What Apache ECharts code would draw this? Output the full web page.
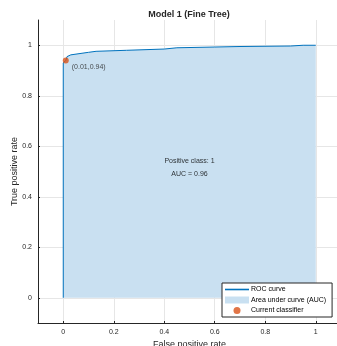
<!DOCTYPE html>
<html>
<head>
<meta charset="utf-8">
<script src="https://cdn.jsdelivr.net/npm/echarts@6/dist/echarts.min.js"></script>
<style>
html, body { margin: 0; padding: 0; background: #fff; }
#chart { width: 337px; height: 346px; }
</style>
</head>
<body>
<div id="chart"></div>
<script>
// ROC points
const fpr = [0, 0, 0.01, 0.015, 0.03, 0.1, 0.13, 0.25, 0.4, 0.45, 0.6, 0.7, 0.9, 0.95, 1];
const tpr = [0, 0.93, 0.94, 0.955, 0.962, 0.972, 0.976, 0.98, 0.985, 0.99, 0.993, 0.995, 0.997, 1, 1];
const current = [0.01, 0.94];
const ticks = [0, 0.2, 0.4, 0.6, 0.8, 1];
const infoText = ['Positive class: 1', 'AUC = 0.96'];

const font = 'Liberation Sans, Arial, sans-serif';
const roc = fpr.map((x, i) => [x, tpr[i]]);

const mychart = echarts.init(document.getElementById('chart'));

const axisCommon = {
  type: 'value',
  min: -0.1,
  max: 1.1,
  nameLocation: 'middle',
  nameMoveOverlap: false,
  nameTextStyle: { fontFamily: font, fontSize: 9, color: '#262626' },
  axisLine: { show: true, onZero: false, lineStyle: { color: '#262626', width: 1 } },
  axisTick: { show: true, inside: true, length: 2, customValues: ticks, lineStyle: { color: '#262626' } },
  axisLabel: {
    customValues: ticks,
    fontFamily: font,
    fontSize: 7,
    color: '#262626',
    formatter: v => String(Math.round(v * 10) / 10)
  },
  splitLine: { show: true, lineStyle: { color: '#e6e6e6', width: 1 } }
};

const option = {
  animation: false,
  graphic: [{
    type: 'text',
    x: 189,
    y: 15,
    style: {
      text: 'Model 1 (Fine Tree)',
      textAlign: 'center',
      textVerticalAlign: 'middle',
      fontFamily: font,
      fontSize: 9,
      fontWeight: 'bold',
      fill: '#262626'
    }
  }],
  grid: { left: 38, top: 20, right: -4, bottom: 23, outerBoundsMode: 'none' },
  xAxis: Object.assign({}, axisCommon, {
    name: 'False positive rate',
    nameGap: 17,
    axisLabel: Object.assign({}, axisCommon.axisLabel, { margin: 6 })
  }),
  yAxis: Object.assign({}, axisCommon, {
    name: 'True positive rate',
    nameGap: 19,
    axisLabel: Object.assign({}, axisCommon.axisLabel, { margin: 6 })
  }),
  legend: {
    orient: 'vertical',
    left: 222,
    top: 283,
    padding: [3, 6, 3, 3],
    itemWidth: 24,
    itemHeight: 7,
    itemGap: 3.5,
    symbolKeepAspect: true,
    backgroundColor: '#fff',
    borderColor: '#262626',
    borderWidth: 1,
    borderRadius: 0,
    textStyle: { fontFamily: font, fontSize: 7, color: '#000', padding: [0, 0, 0, -3] },
    data: [
      { name: 'ROC curve', icon: 'path://M0,0L24,0L24,1.6L0,1.6Z', itemStyle: { color: '#0072BD' } },
      { name: 'Area under curve (AUC)', icon: 'rect' },
      { name: 'Current classifier', icon: 'circle' }
    ]
  },
  series: [{
    name: 'Area under curve (AUC)',
    type: 'line',
    data: roc,
    symbol: 'none',
    lineStyle: { width: 0 },
    itemStyle: { color: '#c9e0f1' },
    areaStyle: { color: '#c9e0f1', opacity: 1 },
    z: 1
  }, {
    name: 'ROC curve',
    type: 'line',
    data: roc,
    symbol: 'none',
    lineStyle: { width: 1, color: '#0072BD' },
    itemStyle: { color: '#0072BD' },
    z: 2
  }, {
    name: 'Current classifier',
    type: 'scatter',
    data: [current],
    symbolSize: 6,
    itemStyle: { color: '#D95319' },
    label: {
      show: true,
      position: [9, 6],
      align: 'left',
      verticalAlign: 'top',
      fontFamily: font,
      fontSize: 7,
      color: '#262626',
      formatter: p => '(' + p.value[0] + ',' + p.value[1] + ')'
    },
    z: 3
  }, {
    name: 'info',
    type: 'scatter',
    data: [[0.5, 0.517]],
    symbolSize: 0,
    silent: true,
    label: {
      show: true,
      position: 'inside',
      fontFamily: font,
      fontSize: 7,
      lineHeight: 13,
      color: '#000',
      formatter: () => infoText.join('\n')
    },
    z: 3
  }]
};

mychart.setOption(option, true);
</script>
</body>
</html>
